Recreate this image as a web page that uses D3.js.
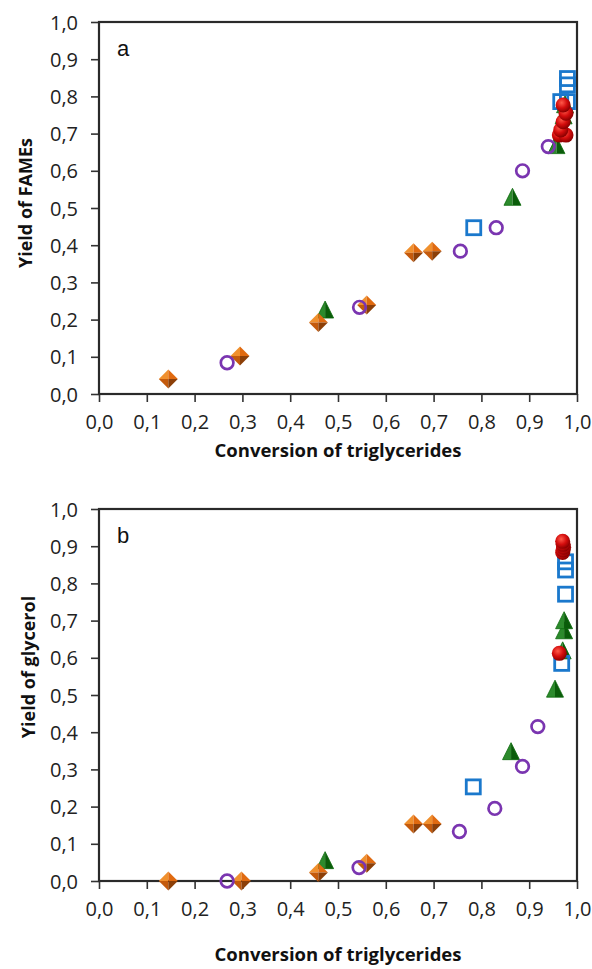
<!DOCTYPE html>
<html>
<head>
<meta charset="utf-8">
<script src="https://cdn.jsdelivr.net/npm/d3@7"></script>
<style>
  html, body { margin: 0; padding: 0; background: #fff; }
  svg { display: block; }
</style>
</head>
<body>
<svg id="chart" width="592" height="969"></svg>
<script>
// ---------- DATA ----------
const xTicks = [0, 0.1, 0.2, 0.3, 0.4, 0.5, 0.6, 0.7, 0.8, 0.9, 1.0];
const yTicks = [0, 0.1, 0.2, 0.3, 0.4, 0.5, 0.6, 0.7, 0.8, 0.9, 1.0];
const xTitle = "Conversion of triglycerides";
const yTitleA = "Yield of FAMEs";
const yTitleB = "Yield of glycerol";

// Panel a: yield of FAMEs vs conversion
const aDiamondX  = [0.145, 0.295, 0.459, 0.560, 0.658, 0.697];
const aDiamondY  = [0.040, 0.102, 0.192, 0.239, 0.380, 0.384];
const aCircleX   = [0.268, 0.545, 0.756, 0.831, 0.886, 0.940];
const aCircleY   = [0.084, 0.233, 0.384, 0.447, 0.600, 0.665];
const aTriangleX = [0.473, 0.865, 0.957, 0.968, 0.972, 0.975];
const aTriangleY = [0.223, 0.526, 0.665, 0.700, 0.745, 0.775];
const aSquareX   = [0.784, 0.966, 0.980, 0.980, 0.980];
const aSquareY   = [0.447, 0.786, 0.786, 0.831, 0.848];
const aSphereX   = [0.963, 0.977, 0.966, 0.971, 0.977, 0.971];
const aSphereY   = [0.696, 0.696, 0.710, 0.732, 0.755, 0.777];

// Panel b: yield of glycerol vs conversion
const bDiamondX  = [0.145, 0.298, 0.459, 0.560, 0.658, 0.697];
const bDiamondY  = [0.000, 0.000, 0.023, 0.048, 0.153, 0.153];
const bCircleX   = [0.268, 0.544, 0.754, 0.828, 0.886, 0.918];
const bCircleY   = [0.000, 0.036, 0.133, 0.195, 0.308, 0.415];
const bTriangleX = [0.473, 0.862, 0.954, 0.970, 0.973, 0.973];
const bTriangleY = [0.052, 0.345, 0.513, 0.616, 0.670, 0.697];
const bSquareX   = [0.783, 0.968, 0.976, 0.976, 0.976];
const bSquareY   = [0.253, 0.585, 0.771, 0.836, 0.858];
const bSphereX   = [0.963, 0.970, 0.971, 0.972, 0.971, 0.970];
const bSphereY   = [0.612, 0.883, 0.890, 0.897, 0.905, 0.913];

// ---------- DRAW ----------
const svg = d3.select("#chart");
const defs = svg.append("defs");
const sphereGrad = defs.append("radialGradient").attr("id", "sphereGrad")
  .attr("cx", "40%").attr("cy", "35%").attr("r", "65%");
sphereGrad.append("stop").attr("offset", "0%").attr("stop-color", "#ff5a4a");
sphereGrad.append("stop").attr("offset", "55%").attr("stop-color", "#d40d0d");
sphereGrad.append("stop").attr("offset", "100%").attr("stop-color", "#8a0000");

const fmt = d => d3.format(".1f")(d).replace(".", ",");
const font = "'Open Sans', 'DejaVu Sans', sans-serif";

function panel(cfg) {
  const x = d3.scaleLinear().domain([0, 1]).range([99, 577]);
  const y = d3.scaleLinear().domain([0, 1]).range([cfg.bottom, cfg.bottom - 372]);
  const g = svg.append("g");

  // axes
  const ax = g.append("g").attr("transform", `translate(0,${cfg.bottom})`)
    .call(d3.axisBottom(x).tickValues(xTicks).tickFormat(fmt).tickSize(8).tickSizeOuter(0));
  const ay = g.append("g").attr("transform", `translate(99,0)`)
    .call(d3.axisLeft(y).tickValues(yTicks).tickFormat(fmt).tickSize(8).tickSizeOuter(0));
  [ax, ay].forEach(a => {
    a.select(".domain").remove();
    a.selectAll(".tick line").attr("stroke", "#333").attr("stroke-width", 1.6);
    a.selectAll(".tick text").attr("fill", "#222")
      .style("font-family", font).style("font-size", "20px");
  });
  ax.selectAll(".tick text").attr("y", 0).attr("dy", "1.75em");
  ay.selectAll(".tick text").attr("x", -21).attr("dy", "0.35em");

  // frame
  g.append("rect").attr("x", x(0)).attr("y", y(1))
    .attr("width", x(1) - x(0)).attr("height", y(0) - y(1))
    .attr("fill", "none").attr("stroke", "#2a2a2a").attr("stroke-width", 2.2);

  // titles
  g.append("text").attr("x", (x(0) + x(1)) / 2).attr("y", cfg.xTitleY)
    .attr("text-anchor", "middle").attr("fill", "#111")
    .style("font-family", font).style("font-weight", "bold").style("font-size", "18.5px")
    .text(xTitle);
  g.append("text")
    .attr("transform", `translate(${cfg.yTitleX},${cfg.yTitleCY}) rotate(-90)`)
    .attr("text-anchor", "middle").attr("fill", "#111")
    .style("font-family", font).style("font-weight", "bold").style("font-size", "18px")
    .text(cfg.yTitle);
  g.append("text").attr("x", 117).attr("y", y(1) + 34)
    .attr("fill", "#111").style("font-family", "'Liberation Sans', Arial, sans-serif")
    .style("font-size", "22px").text(cfg.letter);

  const pts = (xs, ys) => xs.map((v, i) => ({ x: v, y: ys[i] }));
  const d = cfg.data;

  // triangles (green, bevelled)
  const tri = g.append("g").selectAll("g").data(pts(d.triX, d.triY)).join("g")
    .attr("transform", p => `translate(${x(p.x)},${y(p.y)})`);
  tri.append("path").attr("d", "M0,-10 L-8.5,7 L0,7 Z").attr("fill", "#2c8a2c");
  tri.append("path").attr("d", "M0,-10 L8.5,7 L0,7 Z").attr("fill", "#0a5c0a");
  tri.append("path").attr("d", "M0,-10 L-8.5,7 L8.5,7 Z").attr("fill", "none")
    .attr("stroke", "#0b6a0b").attr("stroke-width", 0.8);

  // diamonds (orange, bevelled)
  const dia = g.append("g").selectAll("g").data(pts(d.diaX, d.diaY)).join("g")
    .attr("transform", p => `translate(${x(p.x)},${y(p.y)})`);
  const r = 9.5;
  dia.append("path").attr("d", `M0,0 L0,${-r} L${-r},0 Z`).attr("fill", "#f0902e");
  dia.append("path").attr("d", `M0,0 L0,${-r} L${r},0 Z`).attr("fill", "#e06a10");
  dia.append("path").attr("d", `M0,0 L${-r},0 L0,${r} Z`).attr("fill", "#c45a0c");
  dia.append("path").attr("d", `M0,0 L${r},0 L0,${r} Z`).attr("fill", "#8c3f08");

  // squares (blue, open)
  g.append("g").selectAll("rect").data(pts(d.sqX, d.sqY)).join("rect")
    .attr("x", p => x(p.x) - 7).attr("y", p => y(p.y) - 7)
    .attr("width", 14).attr("height", 14)
    .attr("fill", "none").attr("stroke", "#1a78cc").attr("stroke-width", 2.8);

  // circles (purple, open)
  g.append("g").selectAll("circle").data(pts(d.cirX, d.cirY)).join("circle")
    .attr("cx", p => x(p.x)).attr("cy", p => y(p.y)).attr("r", 6.3)
    .attr("fill", "none").attr("stroke", "#7a35b0").attr("stroke-width", 2.7);

  // spheres (red)
  g.append("g").selectAll("circle").data(pts(d.sphX, d.sphY)).join("circle")
    .attr("cx", p => x(p.x)).attr("cy", p => y(p.y)).attr("r", 7.5)
    .attr("fill", "url(#sphereGrad)");
}

panel({
  bottom: 394, xTitleY: 457, yTitleX: 32, yTitleCY: 203, yTitle: yTitleA, letter: "a",
  data: { diaX: aDiamondX, diaY: aDiamondY, cirX: aCircleX, cirY: aCircleY,
          triX: aTriangleX, triY: aTriangleY, sqX: aSquareX, sqY: aSquareY,
          sphX: aSphereX, sphY: aSphereY }
});
panel({
  bottom: 881, xTitleY: 961, yTitleX: 35, yTitleCY: 667, yTitle: yTitleB, letter: "b",
  data: { diaX: bDiamondX, diaY: bDiamondY, cirX: bCircleX, cirY: bCircleY,
          triX: bTriangleX, triY: bTriangleY, sqX: bSquareX, sqY: bSquareY,
          sphX: bSphereX, sphY: bSphereY }
});
</script>
</body>
</html>
